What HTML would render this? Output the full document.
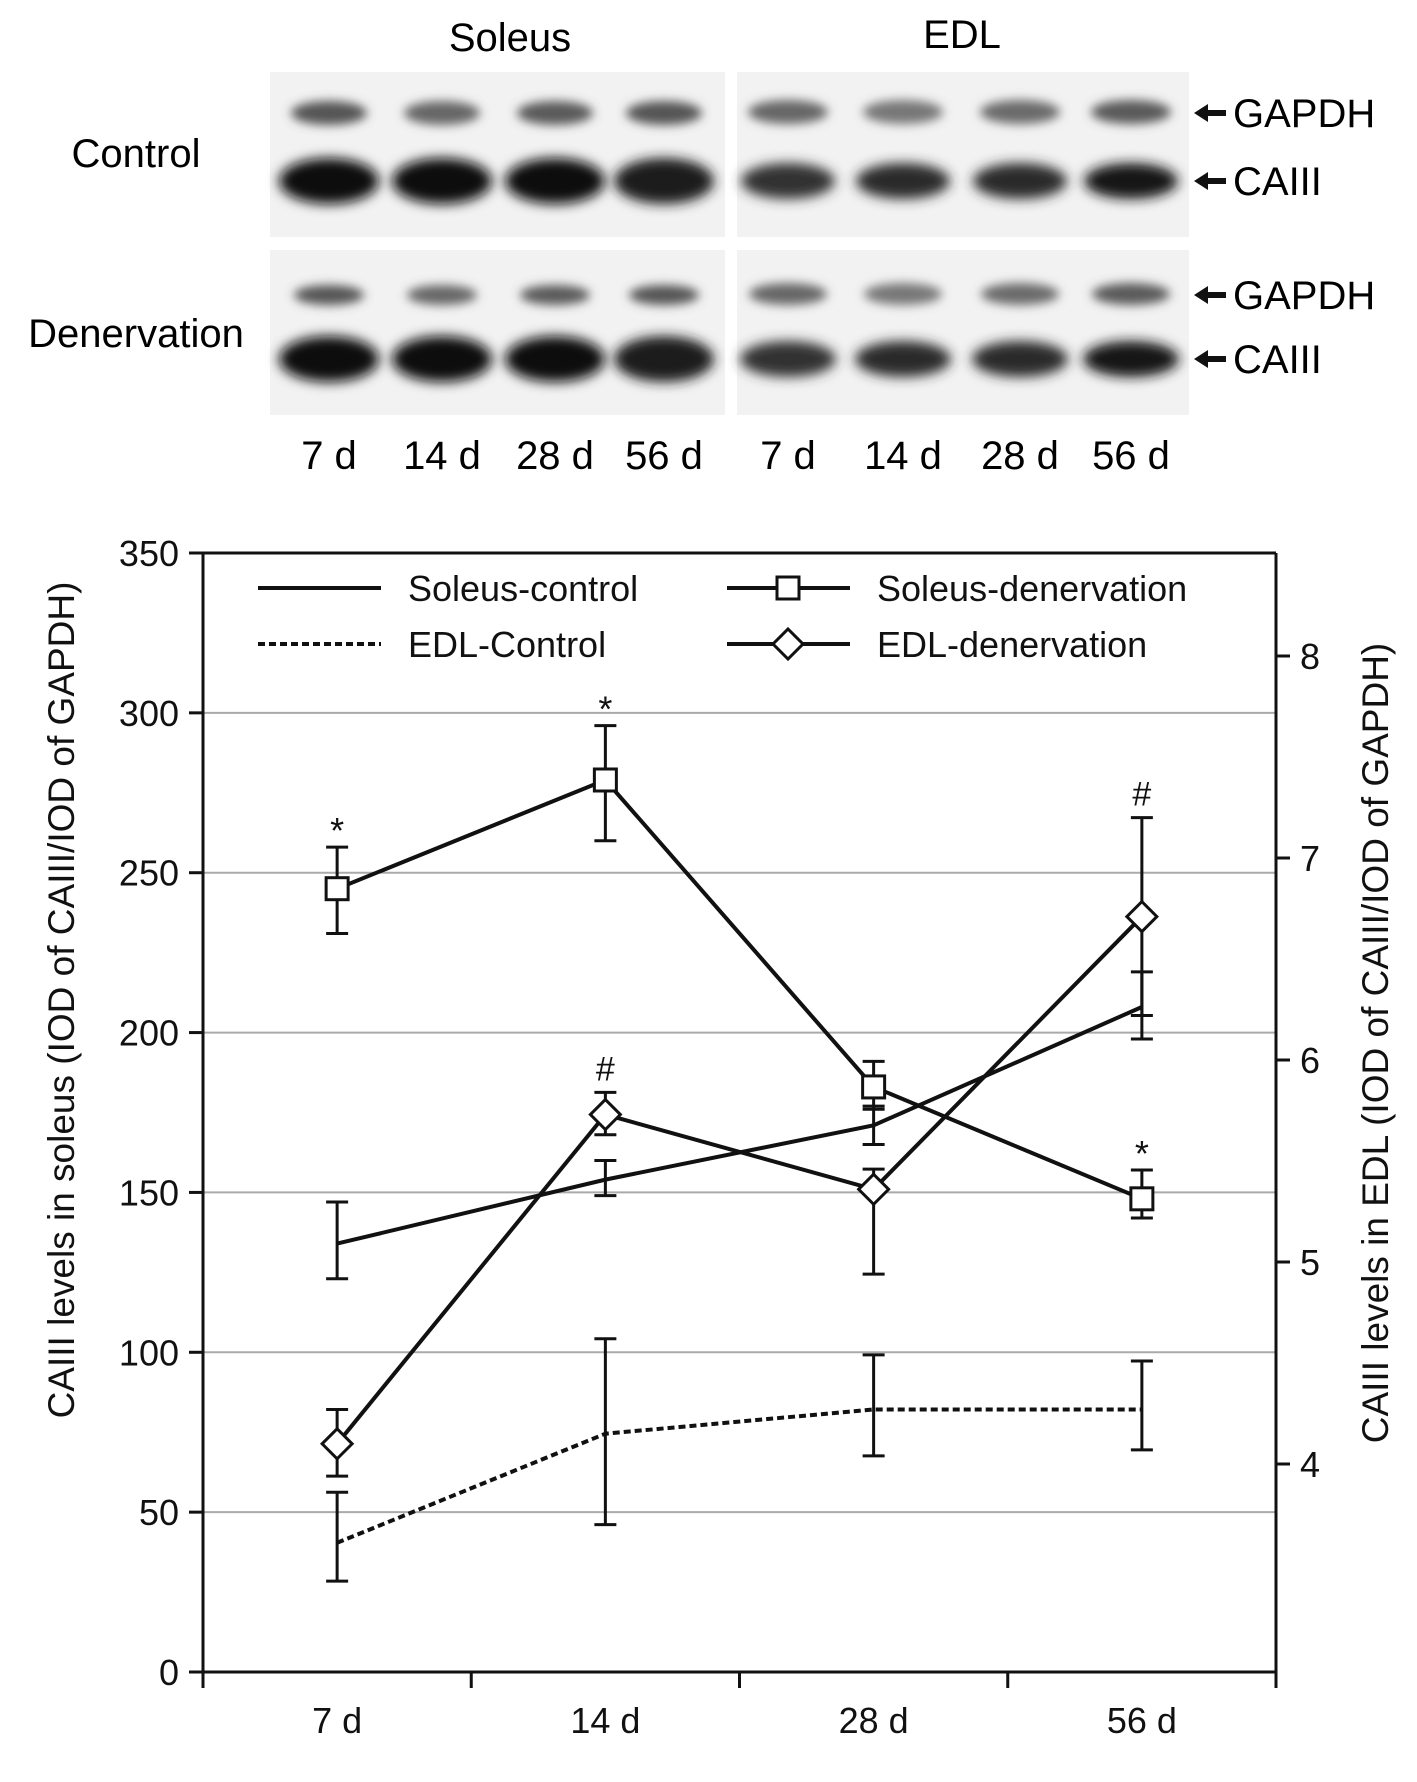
<!DOCTYPE html>
<html><head><meta charset="utf-8"><style>
html,body{margin:0;padding:0;background:#fff;}
svg{display:block;font-family:"Liberation Sans",Arial,sans-serif;}
</style></head><body>
<svg id="fig" width="1417" height="1782" viewBox="0 0 1417 1782" xmlns="http://www.w3.org/2000/svg">
<defs>
<filter id="blur" x="-30%" y="-80%" width="160%" height="260%"><feGaussianBlur stdDeviation="6"/></filter>
<filter id="blur2" x="-30%" y="-80%" width="160%" height="260%"><feGaussianBlur stdDeviation="5"/></filter>
</defs>
<g id="blot">
<text x="510" y="51" font-size="40" text-anchor="middle">Soleus</text>
<text x="962" y="48" font-size="40" text-anchor="middle">EDL</text>
<text x="136" y="167" font-size="40" text-anchor="middle">Control</text>
<text x="136" y="347" font-size="40" text-anchor="middle">Denervation</text>
<g id="panels"></g>
<g id="blotlabels" font-size="40"></g>
</g>
<g id="chart"></g>
</svg>
<script>
// Chart data
const categories = ["7 d","14 d","28 d","56 d"];
const leftTicks = [0,50,100,150,200,250,300,350];
const rightTicks = [4,5,6,7,8];
const soleusControl = [134,154,171,208];
const soleusControlErrLo = [123,149,165,198];
const soleusControlErrHi = [147,160,177,219];
const soleusDen = [245,279,183,148];
const soleusDenErrLo = [231,260,176,142];
const soleusDenErrHi = [258,296,191,157];
const edlControl = [3.61,4.15,4.27,4.27];
const edlControlErrLo = [3.42,3.70,4.04,4.07];
const edlControlErrHi = [3.86,4.62,4.54,4.51];
const edlDen = [4.10,5.73,5.36,6.71];
const edlDenErrLo = [3.94,5.63,4.94,6.22];
const edlDenErrHi = [4.27,5.84,5.46,7.20];
const sigMarks = [["*","soleusDen",0],["*","soleusDen",1],["*","soleusDen",3],["#","edlDen",1],["#","edlDen",3]];

const NS="http://www.w3.org/2000/svg";
function mk(tag, attrs, parent, text){const e=document.createElementNS(NS,tag);for(const k in attrs)e.setAttribute(k,attrs[k]);if(text!==undefined)e.textContent=text;parent.appendChild(e);return e;}

// ---- Blot ----
const panels=document.getElementById('panels');
const panelRects=[[270,72,455,165],[737,72,452,165],[270,250,455,165],[737,250,452,165]];
panelRects.forEach((p,i)=>{
  const r=mk('rect',{x:p[0],y:p[1],width:p[2],height:p[3],fill:'#f2f2f2'},panels);
  
  
});
const lanesS=[329,442,555,664], lanesE=[788,903,1020,1131];
function band(cx,cy,w,h,col,f){const e=mk('ellipse',{cx:cx,cy:cy,rx:w/2,ry:h/2,fill:col,filter:'url(#'+f+')'},panels);
  
  }
const sG=['#555','#666','#5a5a5a','#555'], sC=['#111','#0a0a0a','#111','#1a1a1a'];
const eG=['#666','#777','#6a6a6a','#5a5a5a'], eC=['#333','#2a2a2a','#2a2a2a','#151515'];
lanesS.forEach((x,i)=>{band(x,113,76,24,sG[i],'blur2');band(x,181,100,46,sC[i],'blur');});
lanesE.forEach((x,i)=>{band(x,112,80,24,eG[i],'blur2');band(x,181,94,36,eC[i],'blur');});
lanesS.forEach((x,i)=>{band(x,295,70,20,sG[i],'blur2');band(x,359,100,46,sC[i],'blur');});
lanesE.forEach((x,i)=>{band(x,294,78,22,eG[i],'blur2');band(x,359,96,36,eC[i],'blur');});
const bl=document.getElementById('blotlabels');
[[113,'GAPDH'],[181,'CAIII'],[295,'GAPDH'],[359,'CAIII']].forEach(a=>{
  const g=mk('g',{},bl);
  
  
  mk('path',{d:`M1194 ${a[0]} l14 -9 v6 h18 v6 h-18 v6 z`,fill:'#111'},g);
  mk('text',{x:1233,y:a[0]+14},g,a[1]);
});
[...lanesS,...lanesE].forEach((x,i)=>{
  const t=mk('text',{x:x,y:469,'text-anchor':'middle'},bl,categories[i%4]);
  
  
});

// ---- Chart ----
const C=document.getElementById('chart');
const L=203,R=1276,T=553,B=1672;
const yL=v=>B-v*(B-T)/350;
const yR=v=>656-(v-8)*202;
const xC=i=>L+(R-L)*(i+0.5)/4;
[50,100,150,200,250,300].forEach(v=>{const g=mk('line',{x1:L,x2:R,y1:yL(v),y2:yL(v),stroke:'#aaa','stroke-width':2},C);
  
  });
const ax=mk('g',{stroke:'#111','stroke-width':3,fill:'none'},C);


mk('line',{x1:L,x2:L,y1:T,y2:B+16},ax);
mk('line',{x1:R,x2:R,y1:T,y2:B+16},ax);
mk('line',{x1:L-14,x2:R,y1:T,y2:T},ax);
mk('line',{x1:L-14,x2:R,y1:B,y2:B},ax);
leftTicks.forEach(v=>{mk('line',{x1:L-14,x2:L,y1:yL(v),y2:yL(v)},ax);
  const t=mk('text',{x:L-24,y:yL(v)+13,'text-anchor':'end','font-size':36,fill:'#111',stroke:'none'},C,String(v));
  
  });
rightTicks.forEach(v=>{mk('line',{x1:R,x2:R+14,y1:yR(v),y2:yR(v)},ax);
  const t=mk('text',{x:R+24,y:yR(v)+13,'font-size':36,fill:'#111'},C,String(v));
  
  });
for(let i=1;i<4;i++){const x=L+(R-L)*i/4;mk('line',{x1:x,x2:x,y1:B,y2:B+16},ax);}
categories.forEach((c,i)=>{const t=mk('text',{x:xC(i),y:1733,'text-anchor':'middle','font-size':36,fill:'#111'},C,c);
  
  });
const yt1=mk('text',{x:0,y:0,transform:'translate(74,1000) rotate(-90)','text-anchor':'middle','font-size':37,fill:'#111'},C,'CAIII levels in soleus (IOD of CAIII/IOD of GAPDH)');


const yt2=mk('text',{x:0,y:0,transform:'translate(1388,1043) rotate(-90)','text-anchor':'middle','font-size':37,fill:'#111'},C,'CAIII levels in EDL (IOD of CAIII/IOD of GAPDH)');



function series(name,vals,lo,hi,ys,dash,marker){
  const g=mk('g',{},C);
  
  
  vals.forEach((v,i)=>{const x=xC(i);
    mk('line',{x1:x,x2:x,y1:ys(lo[i]),y2:ys(hi[i]),stroke:'#111','stroke-width':3},g);
    mk('line',{x1:x-11,x2:x+11,y1:ys(lo[i]),y2:ys(lo[i]),stroke:'#111','stroke-width':3},g);
    mk('line',{x1:x-11,x2:x+11,y1:ys(hi[i]),y2:ys(hi[i]),stroke:'#111','stroke-width':3},g);});
  const d=vals.map((v,i)=>(i?'L':'M')+xC(i)+' '+ys(v)).join(' ');
  mk('path',{d:d,fill:'none',stroke:'#111','stroke-width':4,'stroke-dasharray':dash||'none'},g);
  vals.forEach((v,i)=>drawMarker(g,marker,xC(i),ys(v)));
}
function drawMarker(g,m,x,y){
  if(m==='sq'){const r=mk('rect',{x:x-11,y:y-11,width:22,height:22,fill:'#fff',stroke:'#111','stroke-width':3},g);
    
    }
  if(m==='di'){const p=mk('path',{d:`M${x} ${y-15} L${x+15} ${y} L${x} ${y+15} L${x-15} ${y} Z`,fill:'#fff',stroke:'#111','stroke-width':3},g);
    
    }
}
series('edl-control-series',edlControl,edlControlErrLo,edlControlErrHi,yR,'7 4',null);
series('soleus-control-series',soleusControl,soleusControlErrLo,soleusControlErrHi,yL,null,null);
series('edl-denervation-series',edlDen,edlDenErrLo,edlDenErrHi,yR,null,'di');
series('soleus-denervation-series',soleusDen,soleusDenErrLo,soleusDenErrHi,yL,null,'sq');
sigMarks.forEach(s=>{
  const top=s[1]==='soleusDen'?yL(soleusDenErrHi[s[2]]):yR(edlDenErrHi[s[2]]);
  const t=mk('text',{x:xC(s[2]),y:top-(s[0]==='*'?4:12),'text-anchor':'middle','font-size':s[0]==='*'?36:34,fill:'#111'},C,s[0]);
  
  
});
const lg=mk('g',{},C);


[[258,588,'Soleus-control',null,null],[258,644,'EDL-Control','7 4',null],[727,588,'Soleus-denervation',null,'sq'],[727,644,'EDL-denervation',null,'di']].forEach(e=>{
  const g=mk('g',{},lg);
  
  
  mk('line',{x1:e[0],x2:e[0]+123,y1:e[1],y2:e[1],stroke:'#111','stroke-width':4,'stroke-dasharray':e[3]||'none'},g);
  if(e[4])drawMarker(g,e[4],e[0]+61,e[1]);
  mk('text',{x:e[0]+150,y:e[1]+13,'font-size':36,fill:'#111'},g,e[2]);
});
</script>
</body></html>
